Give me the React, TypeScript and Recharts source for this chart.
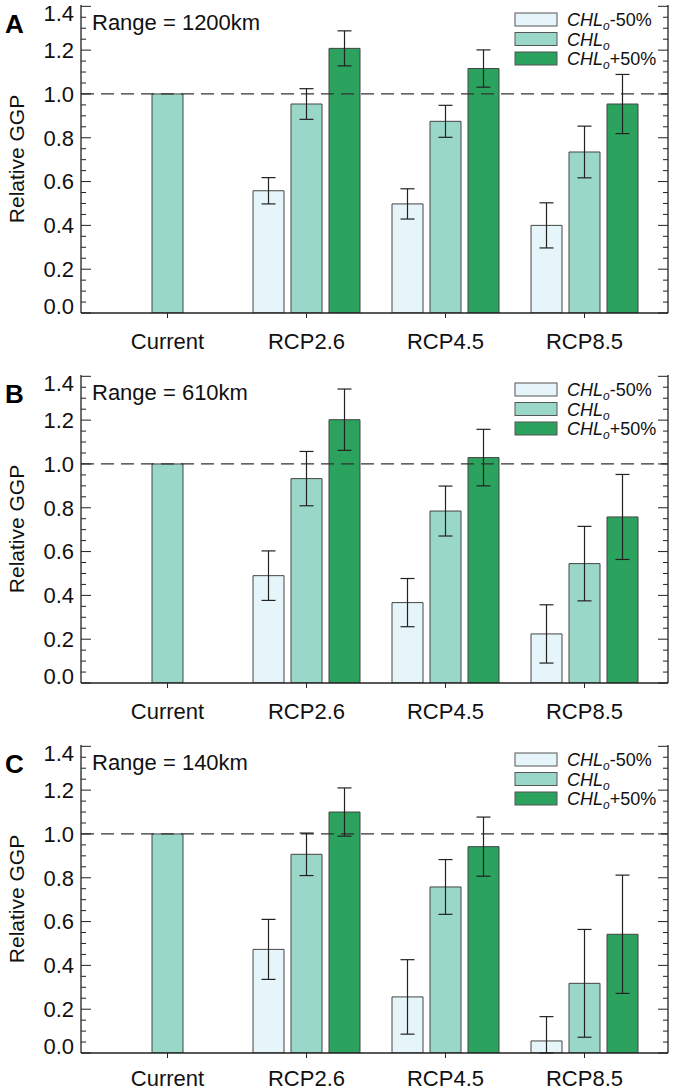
import { BarChart, Bar, XAxis, YAxis, ReferenceLine, ErrorBar, Label } from 'recharts'

const CATEGORIES = ['Current', 'RCP2.6', 'RCP4.5', 'RCP8.5']

// panel A, range = 1200km
const A_MINUS = [null, 0.558, 0.498, 0.4]
const A_BASE = [1.0, 0.954, 0.875, 0.735]
const A_PLUS = [null, 1.208, 1.116, 0.954]
const A_MINUS_ERR = [null, 0.06, 0.069, 0.103]
const A_BASE_ERR = [null, 0.07, 0.073, 0.118]
const A_PLUS_ERR = [null, 0.08, 0.085, 0.135]

// panel B, range = 610km
const B_MINUS = [null, 0.49, 0.367, 0.224]
const B_BASE = [1.0, 0.933, 0.785, 0.545]
const B_PLUS = [null, 1.202, 1.029, 0.758]
const B_MINUS_ERR = [null, 0.113, 0.11, 0.133]
const B_BASE_ERR = [null, 0.124, 0.114, 0.17]
const B_PLUS_ERR = [null, 0.14, 0.129, 0.194]

// panel C, range = 140km (RCP8.5 low whisker is cut at the axis: [down, up])
const C_MINUS = [null, 0.473, 0.256, 0.055]
const C_BASE = [1.0, 0.907, 0.758, 0.318]
const C_PLUS = [null, 1.1, 0.942, 0.542]
const C_MINUS_ERR = [null, 0.137, 0.17, [0.055, 0.111]]
const C_BASE_ERR = [null, 0.097, 0.125, 0.246]
const C_PLUS_ERR = [null, 0.11, 0.135, 0.27]

const Y_TICKS = [
  0, 0.05, 0.1, 0.15, 0.2, 0.25, 0.3, 0.35, 0.4, 0.45, 0.5, 0.55, 0.6, 0.65, 0.7,
  0.75, 0.8, 0.85, 0.9, 0.95, 1.0, 1.05, 1.1, 1.15, 1.2, 1.25, 1.3, 1.35, 1.4,
]

const COLORS = ['#e5f5f9', '#99d8c9', '#2ca25f']
const FONT = '"Liberation Sans", Arial, Helvetica, sans-serif'
const INK = '#222'

const W = 674
const PLOT_LEFT = 81
const PLOT_RIGHT = 668
const PLOT_TOP = 5
const PLOT_BOTTOM = 313
const Y_MAX = 1.406

type Err = number | number[] | null

const isMajor = (v: number) => Math.abs(v * 5 - Math.round(v * 5)) < 1e-6

function LeftTick(props: any) {
  const { y, payload } = props
  const v = payload.value as number
  const major = isMajor(v)
  let dy = 0
  if (v === 0) dy = -7
  if (v > 1.39) dy = 7
  return (
    <g>
      <line x1={PLOT_LEFT} x2={PLOT_LEFT + (major ? 10 : 5)} y1={y} y2={y} stroke={INK} strokeWidth={1} />
      {major && (
        <text x={74} y={y + dy} dy="0.36em" textAnchor="end" fontSize={22} fill="#111" fontFamily={FONT}>
          {v.toFixed(1)}
        </text>
      )}
    </g>
  )
}

function RightTick(props: any) {
  const { y, payload } = props
  const major = isMajor(payload.value)
  return <line x1={PLOT_RIGHT - (major ? 10 : 5)} x2={PLOT_RIGHT} y1={y} y2={y} stroke={INK} strokeWidth={1} />
}

const LEGEND = ['-50%', '', '+50%']

interface PanelProps {
  letter: string
  range: string
  top: number
  height: number
  labelGap: number
  minus: (number | null)[]
  base: (number | null)[]
  plus: (number | null)[]
  minusErr: Err[]
  baseErr: Err[]
  plusErr: Err[]
}

function Panel(p: PanelProps) {
  const data = CATEGORIES.map((cat, i) => ({
    cat,
    minus: p.minus[i],
    base: p.base[i],
    plus: p.plus[i],
    minusErr: p.minusErr[i],
    baseErr: p.baseErr[i],
    plusErr: p.plusErr[i],
  }))

  return (
    <div style={{ position: 'absolute', left: 0, top: p.top, width: W, height: p.height }}>
      <BarChart
        width={W}
        height={p.height}
        data={data}
        margin={{ top: PLOT_TOP, right: 0, bottom: 0, left: 0 }}
        barSize={31}
        barGap={7}
      >
        <XAxis
          dataKey="cat"
          height={p.height - PLOT_BOTTOM}
          interval={0}
          padding={{ left: 17, right: 14 }}
          tickSize={5}
          tickMargin={p.labelGap}
          axisLine={{ stroke: INK, strokeWidth: 1.3 }}
          tickLine={{ stroke: INK, strokeWidth: 1 }}
          tick={{ fontSize: 22, fill: '#111', fontFamily: FONT }}
        />
        <XAxis
          xAxisId="top"
          dataKey="cat"
          orientation="top"
          height={0}
          tick={false}
          tickLine={false}
          axisLine={{ stroke: INK, strokeWidth: 1.3 }}
        />
        <YAxis
          yAxisId="l"
          width={PLOT_LEFT}
          domain={[0, Y_MAX]}
          ticks={Y_TICKS}
          interval={0}
          allowDataOverflow
          tickLine={false}
          axisLine={{ stroke: INK, strokeWidth: 1.3 }}
          tick={<LeftTick />}
        >
          <Label
            content={() => (
              <text
                x={23.5}
                y={159}
                transform="rotate(-90, 23.5, 159)"
                textAnchor="middle"
                fontSize={21}
                fill="#111"
                fontFamily={FONT}
              >
                Relative GGP
              </text>
            )}
          />
        </YAxis>
        <YAxis
          yAxisId="r"
          orientation="right"
          width={W - PLOT_RIGHT}
          domain={[0, Y_MAX]}
          ticks={Y_TICKS}
          interval={0}
          allowDataOverflow
          tickLine={false}
          axisLine={{ stroke: INK, strokeWidth: 1.3 }}
          tick={<RightTick />}
        />
        <ReferenceLine yAxisId="l" y={1} stroke="#333" strokeWidth={1.2} strokeDasharray="13 7" />
        <Bar yAxisId="l" dataKey="minus" fill={COLORS[0]} stroke="#444" strokeWidth={1} isAnimationActive={false}>
          <ErrorBar dataKey="minusErr" width={7} stroke={INK} strokeWidth={1.2} direction="y" />
        </Bar>
        <Bar yAxisId="l" dataKey="base" fill={COLORS[1]} stroke="#444" strokeWidth={1} isAnimationActive={false}>
          <ErrorBar dataKey="baseErr" width={7} stroke={INK} strokeWidth={1.2} direction="y" />
        </Bar>
        <Bar yAxisId="l" dataKey="plus" fill={COLORS[2]} stroke="#444" strokeWidth={1} isAnimationActive={false}>
          <ErrorBar dataKey="plusErr" width={7} stroke={INK} strokeWidth={1.2} direction="y" />
        </Bar>
      </BarChart>

      {/* panel letter, range text, legend */}
      <svg
        width={W}
        height={80}
        style={{ position: 'absolute', left: 0, top: 0, pointerEvents: 'none' }}
        fontFamily={FONT}
      >
        <text x={5} y={33} fontSize={26} fontWeight={700} fill="#000">
          {p.letter}
        </text>
        <text x={92} y={30} fontSize={22} fill="#111">
          {`Range = ${p.range}`}
        </text>
        {LEGEND.map((suffix, i) => (
          <g key={i}>
            <rect x={515} y={13 + i * 19.5} width={42} height={13} fill={COLORS[i]} stroke="#555" strokeWidth={1} />
            <text x={567} y={26 + i * 19.5} fontSize={18} fill="#111">
              <tspan fontStyle="italic">CHL</tspan>
              <tspan fontStyle="italic" fontSize={12} dy={4}>o</tspan>
              {suffix && <tspan dy={-4}>{suffix}</tspan>}
            </text>
          </g>
        ))}
      </svg>
    </div>
  )
}

export default function App() {
  return (
    <div style={{ position: 'absolute', left: 0, top: 0, width: W, height: 1092, background: '#fff' }}>
      <Panel
        letter="A"
        range="1200km"
        top={0}
        height={370}
        labelGap={15}
        minus={A_MINUS}
        base={A_BASE}
        plus={A_PLUS}
        minusErr={A_MINUS_ERR}
        baseErr={A_BASE_ERR}
        plusErr={A_PLUS_ERR}
      />
      <Panel
        letter="B"
        range="610km"
        top={370}
        height={370}
        labelGap={15}
        minus={B_MINUS}
        base={B_BASE}
        plus={B_PLUS}
        minusErr={B_MINUS_ERR}
        baseErr={B_BASE_ERR}
        plusErr={B_PLUS_ERR}
      />
      <Panel
        letter="C"
        range="140km"
        top={740}
        height={352}
        labelGap={12}
        minus={C_MINUS}
        base={C_BASE}
        plus={C_PLUS}
        minusErr={C_MINUS_ERR}
        baseErr={C_BASE_ERR}
        plusErr={C_PLUS_ERR}
      />
    </div>
  )
}
